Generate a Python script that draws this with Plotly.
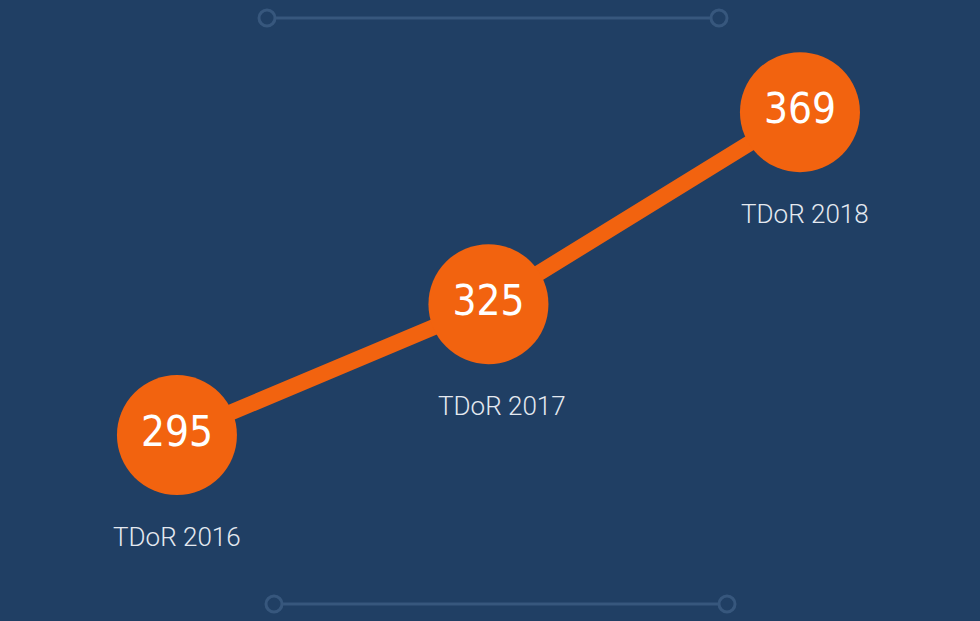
import plotly.graph_objects as go

# TDoR counts per year
years = ["TDoR 2016", "TDoR 2017", "TDoR 2018"]
counts = [295, 325, 369]

bg = "#203f64"
orange = "#f2630f"
deco = "#37577d"

fig = go.Figure()

# orange line + big circles with the numbers inside
fig.add_trace(go.Scatter(
    x=years, y=counts,
    mode="lines+markers+text",
    line=dict(color=orange, width=16),
    marker=dict(size=120, color=orange),
    text=[str(c) for c in counts],
    textposition="middle center",
    textfont=dict(family="DejaVu Sans Condensed, Noto Sans", size=42, color="white"),
    hoverinfo="skip",
    showlegend=False,
))

# year labels under each circle (small nudges to sit like the original)
nudge = [0, 14, 5]
for yr, c, dx in zip(years, counts, nudge):
    fig.add_annotation(x=yr, y=c, text=yr, showarrow=False, yshift=-102, xshift=dx,
                       font=dict(family="Roboto", size=26, weight=300, color="#e4e9f0"))

# decorative lines top and bottom
def deco_line(x0, x1, ypx):
    yp = 1 - ypx / 621
    fig.add_shape(type="line", xref="paper", yref="paper",
                  x0=(x0 + 9) / 980, x1=(x1 - 9) / 980, y0=yp, y1=yp,
                  line=dict(color=deco, width=3))
    for xc in (x0, x1):
        fig.add_shape(type="circle", xref="paper", yref="paper",
                      x0=(xc - 8) / 980, x1=(xc + 8) / 980,
                      y0=yp - 8 / 621, y1=yp + 8 / 621,
                      line=dict(color=deco, width=3))

deco_line(267, 719, 18)
deco_line(274, 727, 604)

fig.update_layout(
    width=980, height=621,
    margin=dict(l=0, r=0, t=0, b=0),
    paper_bgcolor=bg, plot_bgcolor=bg,
    xaxis=dict(range=[-0.568, 2.578], visible=False),
    yaxis=dict(range=[252.4, 394.7], visible=False),
)

fig.write_html("out.html", config={"displayModeBar": False},
               post_script="document.body.style.margin='0';")
